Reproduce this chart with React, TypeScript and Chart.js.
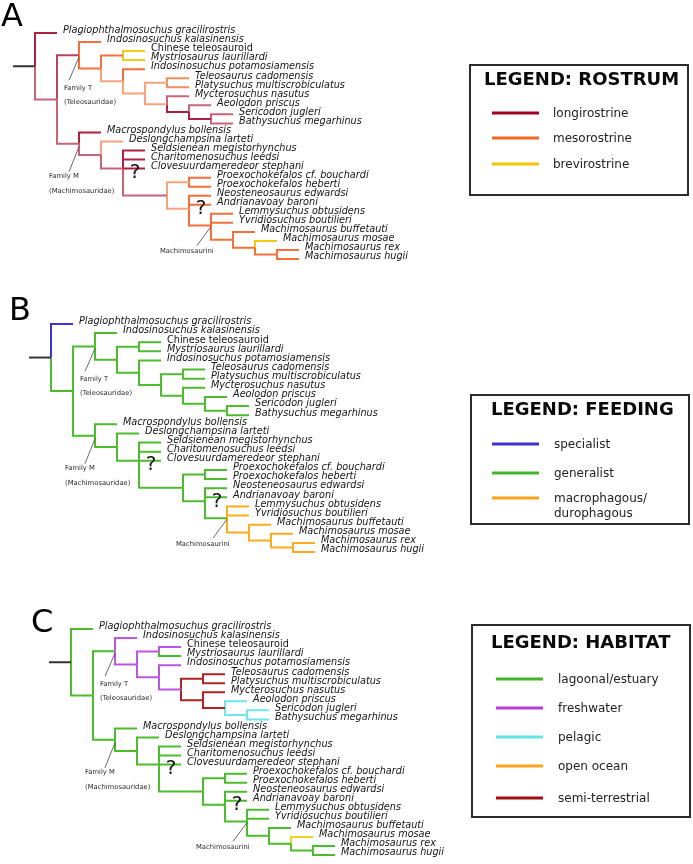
import React, { useEffect, useRef } from 'react';
import { Chart, registerables } from 'chart.js';
Chart.register(...registerables);

// ---------------- DATA ----------------
const TAXA = [
  'Plagiophthalmosuchus gracilirostris',
  'Indosinosuchus kalasinensis',
  'Chinese teleosauroid',
  'Mystriosaurus laurillardi',
  'Indosinosuchus potamosiamensis',
  'Teleosaurus cadomensis',
  'Platysuchus multiscrobiculatus',
  'Mycterosuchus nasutus',
  'Aeolodon priscus',
  'Sericodon jugleri',
  'Bathysuchus megarhinus',
  'Macrospondylus bollensis',
  'Deslongchampsina larteti',
  'Seldsienean megistorhynchus',
  'Charitomenosuchus leedsi',
  'Clovesuurdameredeor stephani',
  'Proexochokefalos cf. bouchardi',
  'Proexochokefalos heberti',
  'Neosteneosaurus edwardsi',
  'Andrianavoay baroni',
  'Lemmysuchus obtusidens',
  'Yvridiosuchus boutilieri',
  'Machimosaurus buffetauti',
  'Machimosaurus mosae',
  'Machimosaurus rex',
  'Machimosaurus hugii',
];
const UPRIGHT_TAXA = ['Chinese teleosauroid'];

// clades: children ('t#' = taxon index, 'n#' = clade index)
const CLADES: string[][] = [
  ['t0', 'n1'],
  ['n2', 'n11'],
  ['t1', 'n3'],
  ['n4', 'n5'],
  ['t2', 't3'],
  ['t4', 'n6'],
  ['n7', 'n8'],
  ['t5', 't6'],
  ['t7', 'n9'],
  ['t8', 'n10'],
  ['t9', 't10'],
  ['t11', 'n12'],
  ['t12', 'n13'],
  ['t13', 't14', 't15', 'n14'],
  ['n15', 'n16'],
  ['t16', 't17'],
  ['t18', 't19', 'n17'],
  ['t20', 't21', 'n18'],
  ['t22', 'n19'],
  ['t23', 'n20'],
  ['t24', 't25'],
];
const BRANCH_STEPS: Record<string, number> = { n14: 2 };
const CLADE_NAMES = [
  { node: 'n2', text: ['Family T', '(Teleosauridae)'] },
  { node: 'n11', text: ['Family M', '(Machimosauridae)'] },
  { node: 'n17', text: ['Machimosaurini'] },
];
const UNCERTAIN = [
  { node: 'n13', taxon: 't15' },
  { node: 'n16', taxon: 't19' },
];

// character states per taxon and per clade
const ROSTRUM_TAXA = ['D', 'O', 'Y', 'Y', 'O', 'o', 'o', 'R', 'R', 'R', 'R', 'D', 'S', 'D', 'D', 'D', 'O', 'O', 'O', 'O', 'O', 'O', 'O', 'Y', 'O', 'O'];
const ROSTRUM_CLADES = ['-', 'R', 'Q', 'O', 'O', 'S', 'S', 'S', 'S', 'D', 'D', 'R', 'R', 'R', 'R', 'S', 'S', 'O', 'O', 'O', 'O'];
const FEEDING_TAXA = ['S', 'G', 'G', 'G', 'G', 'G', 'G', 'G', 'G', 'G', 'G', 'G', 'G', 'G', 'G', 'G', 'G', 'G', 'G', 'G', 'M', 'M', 'M', 'M', 'M', 'M'];
const FEEDING_CLADES = ['-', 'G', 'G', 'G', 'G', 'G', 'G', 'G', 'G', 'G', 'G', 'G', 'G', 'G', 'G', 'G', 'G', 'G', 'M', 'M', 'M'];
const HABITAT_TAXA = ['G', 'P', 'P', 'G', 'P', 'T', 'T', 'T', 'C', 'C', 'C', 'G', 'G', 'G', 'G', 'G', 'G', 'G', 'G', 'G', 'G', 'G', 'G', 'Y', 'G', 'G'];
const HABITAT_CLADES = ['-', 'G', 'G', 'P', 'P', 'P', 'P', 'T', 'T', 'T', 'C', 'G', 'G', 'G', 'G', 'G', 'G', 'G', 'G', 'G', 'G'];

const ROSTRUM_LEGEND = ['longirostrine', 'mesorostrine', 'brevirostrine'];
const FEEDING_LEGEND = ['specialist', 'generalist', 'macrophagous/\ndurophagous'];
const HABITAT_LEGEND = ['lagoonal/estuary', 'freshwater', 'pelagic', 'open ocean', 'semi-terrestrial'];

// ---------------- STYLE ----------------
const ROSTRUM_PALETTE: Record<string, string> = {
  D: '#b0203e', R: '#c8647a', Q: '#b8445c', O: '#f4703a', o: '#f68c5e', S: '#f7a47e', Y: '#f6c913',
};
const FEEDING_PALETTE: Record<string, string> = { S: '#3d33d0', G: '#4cbb2c', M: '#ffaa1e' };
const HABITAT_PALETTE: Record<string, string> = {
  G: '#4cbb2c', P: '#bd55e2', C: '#6ee6ec', T: '#ad2424', Y: '#f5cf22',
};
const ROSTRUM_LEGEND_COLORS = ['#a50021', '#f26522', '#f5c400'];
const FEEDING_LEGEND_COLORS = ['#3b30cc', '#45b52a', '#ffa31a'];
const HABITAT_LEGEND_COLORS = ['#45b52a', '#b53fd9', '#62e3e8', '#ffa31a', '#a01010'];

const W = 693;
const PANEL_H = 288;
const LEVEL_PX = 22;

type Panel = {
  letter: string; top: number; x0: number; y0: number; dy: number;
  letterX: number; letterBase: number;
  taxa: string[]; clades: string[]; palette: Record<string, string>;
  title: string; items: string[]; itemColors: string[];
  box: [number, number, number, number]; titleX: number; titleBase: number;
  lineX: [number, number]; labelX: number; itemY: number[];
};

const PANELS: Panel[] = [
  {
    letter: 'A', top: 0, x0: 13, y0: 33, dy: 9.04, letterX: 1, letterBase: 26,
    taxa: ROSTRUM_TAXA, clades: ROSTRUM_CLADES, palette: ROSTRUM_PALETTE,
    title: 'LEGEND: ROSTRUM', items: ROSTRUM_LEGEND, itemColors: ROSTRUM_LEGEND_COLORS,
    box: [469, 64, 689, 196], titleX: 484, titleBase: 85,
    lineX: [492, 539], labelX: 553, itemY: [113, 138, 164],
  },
  {
    letter: 'B', top: 288, x0: 29, y0: 36, dy: 9.12, letterX: 9, letterBase: 32,
    taxa: FEEDING_TAXA, clades: FEEDING_CLADES, palette: FEEDING_PALETTE,
    title: 'LEGEND: FEEDING', items: FEEDING_LEGEND, itemColors: FEEDING_LEGEND_COLORS,
    box: [470, 106, 690, 237], titleX: 491, titleBase: 127,
    lineX: [492, 539], labelX: 554, itemY: [156, 185, 210],
  },
  {
    letter: 'C', top: 576, x0: 49, y0: 53, dy: 9.04, letterX: 31, letterBase: 56,
    taxa: HABITAT_TAXA, clades: HABITAT_CLADES, palette: HABITAT_PALETTE,
    title: 'LEGEND: HABITAT', items: HABITAT_LEGEND, itemColors: HABITAT_LEGEND_COLORS,
    box: [471, 48, 691, 242], titleX: 491, titleBase: 72,
    lineX: [496, 543], labelX: 558, itemY: [103, 132, 161, 190, 222],
  },
];

// ---------------- TREE LAYOUT ----------------
function buildTree() {
  const depth: Record<string, number> = {};
  const pos: Record<string, number> = {};
  const edges: { from: string; to: string }[] = [];
  const visit = (id: string, d: number): number => {
    depth[id] = d;
    if (id[0] === 't') return (pos[id] = Number(id.slice(1)));
    const kids = CLADES[Number(id.slice(1))];
    const ys = kids.map((k) => {
      edges.push({ from: id, to: k });
      return visit(k, d + (BRANCH_STEPS[k] ?? 1));
    });
    return (pos[id] = ys.reduce((a, b) => a + b, 0) / ys.length);
  };
  visit('n0', 1);
  return { depth, pos, edges };
}

function makeChart(canvas: HTMLCanvasElement, p: Panel) {
  const { depth, pos, edges } = buildTree();
  const colorOf = (id: string) => {
    const idx = Number(id.slice(1));
    const key = id[0] === 't' ? p.taxa[idx] : p.clades[idx];
    return p.palette[key] ?? '#333';
  };
  const datasets: any[] = [
    {
      data: [{ x: 0, y: pos.n0 }, { x: 1, y: pos.n0 }],
      borderColor: '#333',
    },
    ...edges.map((e) => ({
      data: [
        { x: depth[e.from], y: pos[e.from] },
        { x: depth[e.from], y: pos[e.to] },
        { x: depth[e.to], y: pos[e.to] },
      ],
      borderColor: colorOf(e.to),
    })),
  ].map((d) => ({
    ...d,
    showLine: true,
    pointRadius: 0,
    borderWidth: 2,
    tension: 0,
    fill: false,
    borderJoinStyle: 'miter',
    borderCapStyle: 'butt',
  }));

  const annot = {
    id: 'treeText',
    afterDatasetsDraw(chart: any) {
      const ctx: CanvasRenderingContext2D = chart.ctx;
      const xs = chart.scales.x;
      const ys = chart.scales.y;
      const X = (id: string) => xs.getPixelForValue(depth[id]);
      const Y = (id: string) => ys.getPixelForValue(pos[id]);
      ctx.save();
      ctx.fillStyle = '#141414';
      ctx.textBaseline = 'alphabetic';
      ctx.textAlign = 'left';
      TAXA.forEach((name, i) => {
        const id = 't' + i;
        ctx.font = (UPRIGHT_TAXA.includes(name) ? '' : 'italic ') + '9.7px "DejaVu Sans"';
        ctx.fillText(name, X(id) + 6, Y(id) + 0.3);
      });
      // clade names with pointer lines
      const off: Record<string, any> = {
        n2: { dx: -15, cy: [33, 47], l: [-10, 25, 0, 2] },
        n11: { dx: -30, cy: [33, 48], l: [-10, 28, 0, 3] },
        n17: { dx: -51, cy: [26], l: [-14, 20, 0, 1] },
      };
      CLADE_NAMES.forEach((c) => {
        const o = off[c.node];
        const nx = X(c.node), ny = Y(c.node);
        ctx.strokeStyle = '#444';
        ctx.lineWidth = 0.8;
        ctx.beginPath();
        ctx.moveTo(nx + o.l[0], ny + o.l[1]);
        ctx.lineTo(nx + o.l[2], ny + o.l[3]);
        ctx.stroke();
        ctx.fillStyle = '#2a2a2a';
        ctx.font = '6.8px "DejaVu Sans"';
        ctx.textBaseline = 'middle';
        c.text.forEach((t, k) => ctx.fillText(t, nx + o.dx, ny + o.cy[k]));
      });
      ctx.textBaseline = 'alphabetic';
      ctx.fillStyle = '#111';
      ctx.font = '20px "DejaVu Sans"';
      ctx.textAlign = 'center';
      UNCERTAIN.forEach((u) => {
        ctx.fillText('?', X(u.node) + 12, Y(u.taxon) + 9.5);
      });
      ctx.restore();
    },
    afterDraw(chart: any) {
      const ctx: CanvasRenderingContext2D = chart.ctx;
      ctx.save();
      ctx.fillStyle = '#000';
      ctx.textAlign = 'left';
      ctx.textBaseline = 'alphabetic';
      ctx.font = '32px "DejaVu Sans"';
      ctx.fillText(p.letter, p.letterX, p.letterBase);
      const [bx1, by1, bx2, by2] = p.box;
      ctx.strokeStyle = '#2b2b2b';
      ctx.lineWidth = 2;
      ctx.strokeRect(bx1 + 1, by1 + 1, bx2 - bx1 - 2, by2 - by1 - 2);
      ctx.font = 'bold 18px "DejaVu Sans"';
      ctx.fillStyle = '#0a0a0a';
      ctx.fillText(p.title, p.titleX, p.titleBase);
      ctx.font = '12px "DejaVu Sans"';
      p.items.forEach((label, i) => {
        const y = p.itemY[i];
        ctx.fillStyle = p.itemColors[i];
        ctx.fillRect(p.lineX[0], y - 1.5, p.lineX[1] - p.lineX[0], 3);
        ctx.fillStyle = '#222';
        label.split('\n').forEach((ln, k) => ctx.fillText(ln, p.labelX, y + 3.5 + k * 15));
      });
      ctx.restore();
    },
  };

  return new Chart(canvas, {
    type: 'scatter',
    data: { datasets },
    options: {
      responsive: false,
      animation: false,
      devicePixelRatio: 1,
      layout: { padding: 0 },
      plugins: { legend: { display: false }, tooltip: { enabled: false } },
      events: [],
      scales: {
        x: { type: 'linear', display: false, min: -p.x0 / LEVEL_PX, max: (W - p.x0) / LEVEL_PX },
        y: { type: 'linear', display: false, reverse: true, min: -p.y0 / p.dy, max: (PANEL_H - p.y0) / p.dy },
      },
    },
    plugins: [annot],
  } as any);
}

export default function App() {
  const refs = [useRef<HTMLCanvasElement>(null), useRef<HTMLCanvasElement>(null), useRef<HTMLCanvasElement>(null)];
  useEffect(() => {
    const charts = PANELS.map((p, i) => makeChart(refs[i].current as HTMLCanvasElement, p));
    return () => charts.forEach((c) => c.destroy());
  }, []);
  return (
    <div style={{ position: 'absolute', left: 0, top: 0, width: W, height: 864, background: '#fff' }}>
      {PANELS.map((p, i) => (
        <canvas
          key={p.letter}
          ref={refs[i]}
          width={W}
          height={PANEL_H}
          style={{ position: 'absolute', left: 0, top: p.top, width: W, height: PANEL_H }}
        />
      ))}
    </div>
  );
}
